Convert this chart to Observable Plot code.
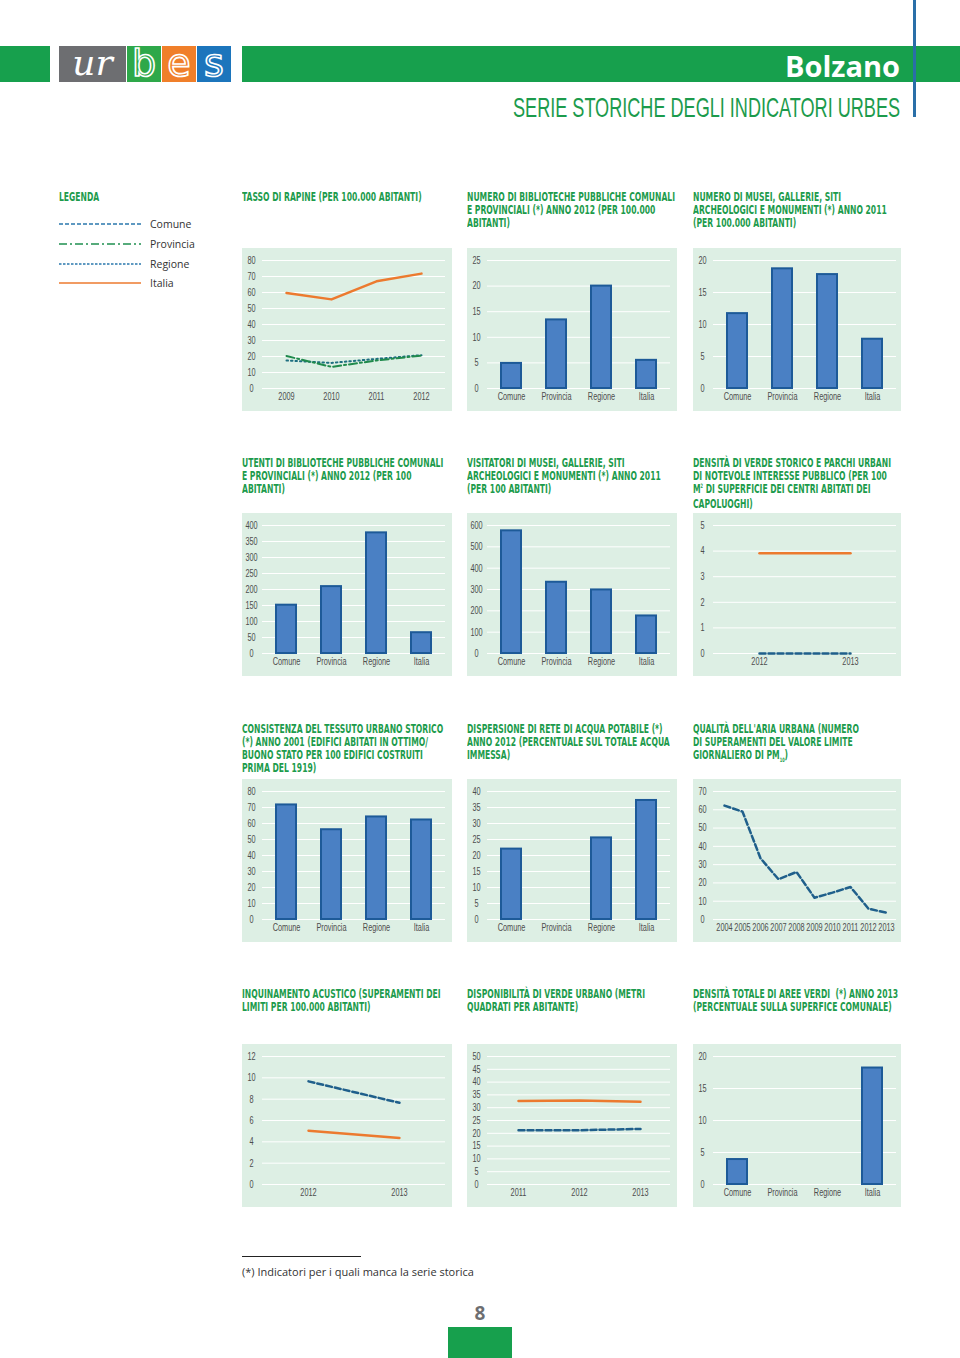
<!DOCTYPE html>
<html><head><meta charset="utf-8">
<script src="https://cdn.jsdelivr.net/npm/d3@7"></script>
<script src="https://cdn.jsdelivr.net/npm/@observablehq/plot@0.6"></script>
<style>
body{margin:0;background:#fff;}
#page{position:relative;width:960px;height:1358px;overflow:hidden;font-family:"Liberation Sans Narrow","DejaVu Sans Condensed",sans-serif;}
.abs{position:absolute;}
.title{position:absolute;color:#1c9b4c;font-weight:bold;font-size:13px;line-height:13px;white-space:nowrap;transform-origin:left top;}
.panel{position:absolute;}
.leg{position:absolute;left:150px;font:10.5px "Open Sans",sans-serif;color:#333;line-height:14px;}
</style></head><body><div id="page">
<div class="abs" style="left:0;top:46px;width:50px;height:36px;background:#17a04d"></div>
<div class="abs" style="left:59px;top:46px;width:67px;height:36px;background:#6d6e71;color:#fff;font:italic 36px 'DejaVu Serif',serif;line-height:34px;text-align:center">ur</div>
<div class="abs" style="left:127px;top:46px;width:34px;height:36px;background:#2ea84a;color:transparent;-webkit-text-stroke:1.6px #fff;font:38px 'DejaVu Sans',sans-serif;line-height:34px;text-align:center">b</div>
<div class="abs" style="left:162px;top:46px;width:34px;height:36px;background:#f07f2a;color:transparent;-webkit-text-stroke:1.6px #fff;font:38px 'DejaVu Sans',sans-serif;line-height:34px;text-align:center">e</div>
<div class="abs" style="left:197px;top:46px;width:34px;height:36px;background:#1c75bc;color:transparent;-webkit-text-stroke:1.6px #fff;font:38px 'DejaVu Sans',sans-serif;line-height:34px;text-align:center">s</div>
<div class="abs" style="left:242px;top:46px;width:718px;height:36px;background:#17a04d"></div>
<div class="abs" style="right:60px;top:46px;height:36px;line-height:36px;color:#fff;font:bold 29px 'Open Sans',sans-serif">Bolzano</div>
<div class="abs" style="left:913px;top:0;width:3px;height:117px;background:#2a6fa8"></div>
<div id="subtitle" class="abs" style="right:60px;top:92px;line-height:28px;color:#1c9b4c;font:28px 'Liberation Sans Narrow',sans-serif;white-space:nowrap;transform-origin:right top">SERIE STORICHE DEGLI INDICATORI URBES</div>

<div class="title" style="left:59px;top:190px">LEGENDA</div>
<svg class="abs" style="left:55px;top:215px" width="92" height="76">
<line x1="4" x2="86" y1="9" y2="9" stroke="#2a78ad" stroke-width="1.6" stroke-dasharray="4,2"/>
<line x1="4" x2="86" y1="29" y2="29" stroke="#1f9050" stroke-width="1.6" stroke-dasharray="8,3,2,3"/>
<line x1="4" x2="86" y1="49" y2="49" stroke="#2a78ad" stroke-width="1.4" stroke-dasharray="2.5,1.5"/>
<line x1="4" x2="86" y1="68" y2="68" stroke="#ec7a2f" stroke-width="1.6"/>
</svg>
<div class="leg" style="top:217px">Comune</div>
<div class="leg" style="top:237px">Provincia</div>
<div class="leg" style="top:257px">Regione</div>
<div class="leg" style="top:276px">Italia</div>

<div class="abs" style="left:242px;top:1256px;width:119px;height:1px;background:#222"></div>
<div class="abs" style="left:242px;top:1265px;font:11px 'Open Sans',sans-serif;color:#333;line-height:14px">(*) Indicatori per i quali manca la serie storica</div>
<div class="abs" style="left:448px;top:1301px;width:64px;text-align:center;font:bold 19px 'Open Sans',sans-serif;color:#6d6e71;line-height:24px">8</div>
<div class="abs" style="left:448px;top:1327px;width:64px;height:31px;background:#17a04d"></div>
<span id="measure" class="title" style="visibility:hidden;left:0;top:0">NUMERO DI BIBLIOTECHE PUBBLICHE COMUNALI</span>
</div>
<script>
// ---------- DATA ----------
const categories = ["Comune", "Provincia", "Regione", "Italia"];

const rapineYears = ["2009", "2010", "2011", "2012"];
const rapineItalia = [59.7, 55.7, 67, 71.8];
const rapineProvincia = [20.3, 13.5, 17.5, 20.6];
const rapineRegione = [17.5, 16, 18.5, 20.8];

const biblioteche = [4.9, 13.4, 20, 5.5];
const musei = [11.7, 18.7, 17.8, 7.7];
const utenti = [151, 209, 377, 65];
const visitatori = [575, 334, 298, 176];

const verdeStoricoYears = ["2012", "2013"];
const verdeStoricoItalia = [3.92, 3.92];
const verdeStoricoComune = [0, 0];

const tessuto = [71.6, 56.1, 64.1, 62.2];
const dispersione = [22, null, 25.5, 37.2];

const pm10Years = ["2004", "2005", "2006", "2007", "2008", "2009", "2010", "2011", "2012", "2013"];
const pm10Comune = [62.3, 59, 33.5, 22, 26, 11.9, 14.7, 17.8, 5.9, 3.7];

const acusticoYears = ["2012", "2013"];
const acusticoComune = [9.67, 7.66];
const acusticoItalia = [5.05, 4.37];

const verdeUrbanoYears = ["2011", "2012", "2013"];
const verdeUrbanoItalia = [32.6, 32.8, 32.3];
const verdeUrbanoComune = [21.2, 21.2, 21.7];

const areeVerdi = [3.9, null, null, 18.2];

const titles = [
  "TASSO DI RAPINE (PER 100.000 ABITANTI)",
  "NUMERO DI BIBLIOTECHE PUBBLICHE COMUNALI<br>E PROVINCIALI (*) ANNO 2012 (PER 100.000<br>ABITANTI)",
  "NUMERO DI MUSEI, GALLERIE, SITI<br>ARCHEOLOGICI E MONUMENTI (*) ANNO 2011<br>(PER 100.000 ABITANTI)",
  "UTENTI DI BIBLIOTECHE PUBBLICHE COMUNALI<br>E PROVINCIALI (*) ANNO 2012 (PER 100<br>ABITANTI)",
  "VISITATORI DI MUSEI, GALLERIE, SITI<br>ARCHEOLOGICI E MONUMENTI (*) ANNO 2011<br>(PER 100 ABITANTI)",
  "DENSITÀ DI VERDE STORICO E PARCHI URBANI<br>DI NOTEVOLE INTERESSE PUBBLICO (PER 100<br>M<span style='font-size:6px;position:relative;top:-5px'>2</span> DI SUPERFICIE DEI CENTRI ABITATI DEI<br>CAPOLUOGHI)",
  "CONSISTENZA DEL TESSUTO URBANO STORICO<br>(*) ANNO 2001 (EDIFICI ABITATI IN OTTIMO/<br>BUONO STATO PER 100 EDIFICI COSTRUITI<br>PRIMA DEL 1919)",
  "DISPERSIONE DI RETE DI ACQUA POTABILE (*)<br>ANNO 2012 (PERCENTUALE SUL TOTALE ACQUA<br>IMMESSA)",
  "QUALITÀ DELL'ARIA URBANA (NUMERO<br>DI SUPERAMENTI DEL VALORE LIMITE<br>GIORNALIERO DI PM<span style='font-size:6px;position:relative;top:3px'>10</span>)",
  "INQUINAMENTO ACUSTICO (SUPERAMENTI DEI<br>LIMITI PER 100.000 ABITANTI)",
  "DISPONIBILITÀ DI VERDE URBANO (METRI<br>QUADRATI PER ABITANTE)",
  "DENSITÀ TOTALE DI AREE VERDI &nbsp;(*) ANNO 2013<br>(PERCENTUALE SULLA SUPERFICE COMUNALE)"
];

// ---------- STYLES ----------
const C = {
  bar: "#4a80c4", barStroke: "#1d5a98",
  comune: "#1f5f8b", provincia: "#1f8a4c", regione: "#1e6f80", italia: "#ec7a2f",
  bg: "#ddefe4"
};
const colX = [242, 467, 693];
const colW = [210, 210, 208];
const rowY = [248, 513, 779, 1044];
const titleY = [190, 456, 722, 987];
const labelSqueeze = 0.7;

const page = document.getElementById("page");
const k = 208 / document.getElementById("measure").getBoundingClientRect().width;

function series(xs, vs) {
  return xs.map((x, i) => ({x, y: vs[i]})).filter(d => d.y != null);
}

function squeeze(svg) {
  svg.querySelectorAll('g[aria-label$="tick label"] text').forEach(t => {
    const tr = t.getAttribute("transform");
    if (tr) t.setAttribute("transform", tr + ` scale(${labelSqueeze},1)`);
    else {
      const x = +t.getAttribute("x") || 0, y = +t.getAttribute("y") || 0;
      t.removeAttribute("x"); t.removeAttribute("y");
      t.setAttribute("transform", `translate(${x},${y}) scale(${labelSqueeze},1)`);
    }
  });
}

function panel(idx, {yMax, yStep, xDomain, band, marks}) {
  const col = idx % 3, row = Math.floor(idx / 3);
  const w = colW[col];
  const ticks = d3.range(0, yMax + yStep / 2, yStep);
  const chart = Plot.plot({
    width: w, height: 163,
    marginTop: 12, marginBottom: 23, marginLeft: 20, marginRight: w - 203,
    style: {background: C.bg, fontFamily: "'Liberation Sans', sans-serif", fontSize: "10.5px", color: "#4d4d4d", overflow: "visible"},
    x: band ? {type: "band", domain: xDomain, paddingInner: 0.56, paddingOuter: 0.28}
            : {type: "point", domain: xDomain, padding: 0.5},
    y: {domain: [0, yMax]},
    marks: [
      Plot.gridY(ticks, {stroke: "#fff", strokeOpacity: 1, strokeWidth: 1}),
      Plot.axisY(ticks, {tickSize: 0, tickPadding: 11, textAnchor: "middle", fill: "#4d4d4d", label: null}),
      Plot.axisX({tickSize: 0, tickPadding: 4, fill: "#4d4d4d", label: null}),
      ...marks
    ]
  });
  squeeze(chart);
  const div = document.createElement("div");
  div.className = "panel";
  div.style.left = colX[col] + "px";
  div.style.top = rowY[row] + "px";
  div.appendChild(chart);
  page.appendChild(div);

  const t = document.createElement("div");
  t.className = "title";
  t.style.left = colX[col] + "px";
  t.style.top = titleY[row] + "px";
  t.style.transform = `scaleX(${k})`;
  t.innerHTML = titles[idx];
  page.appendChild(t);
}

function bars(values) {
  return [Plot.barY(series(categories, values), {x: "x", y: "y", fill: C.bar, stroke: C.barStroke, strokeWidth: 2})];
}
function line(xs, vs, stroke, dash, sw = 2.5) {
  return Plot.lineY(series(xs, vs), {x: "x", y: "y", stroke, strokeWidth: sw, strokeDasharray: dash});
}

panel(0, {yMax: 80, yStep: 10, xDomain: rapineYears, marks: [
  line(rapineYears, rapineItalia, C.italia, null),
  line(rapineYears, rapineRegione, C.regione, "1.5,3", 2),
  line(rapineYears, rapineProvincia, C.provincia, "8,3,2,3", 2)
]});
panel(1, {yMax: 25, yStep: 5, xDomain: categories, band: true, marks: bars(biblioteche)});
panel(2, {yMax: 20, yStep: 5, xDomain: categories, band: true, marks: bars(musei)});
panel(3, {yMax: 400, yStep: 50, xDomain: categories, band: true, marks: bars(utenti)});
panel(4, {yMax: 600, yStep: 100, xDomain: categories, band: true, marks: bars(visitatori)});
panel(5, {yMax: 5, yStep: 1, xDomain: verdeStoricoYears, marks: [
  line(verdeStoricoYears, verdeStoricoItalia, C.italia, null),
  line(verdeStoricoYears, verdeStoricoComune, C.comune, "6,3")
]});
panel(6, {yMax: 80, yStep: 10, xDomain: categories, band: true, marks: bars(tessuto)});
panel(7, {yMax: 40, yStep: 5, xDomain: categories, band: true, marks: bars(dispersione)});
panel(8, {yMax: 70, yStep: 10, xDomain: pm10Years, marks: [
  line(pm10Years, pm10Comune, C.comune, "6,3")
]});
panel(9, {yMax: 12, yStep: 2, xDomain: acusticoYears, marks: [
  line(acusticoYears, acusticoItalia, C.italia, null),
  line(acusticoYears, acusticoComune, C.comune, "6,3")
]});
panel(10, {yMax: 50, yStep: 5, xDomain: verdeUrbanoYears, marks: [
  line(verdeUrbanoYears, verdeUrbanoItalia, C.italia, null),
  line(verdeUrbanoYears, verdeUrbanoComune, C.comune, "6,3")
]});
panel(11, {yMax: 20, yStep: 5, xDomain: categories, band: true, marks: bars(areeVerdi)});

// legend title & header fit
document.querySelector(".title").style.transform = `scaleX(${k})`;
const sub = document.getElementById("subtitle");
sub.style.transform = `scaleX(${387 / sub.getBoundingClientRect().width})`;
</script></body></html>
